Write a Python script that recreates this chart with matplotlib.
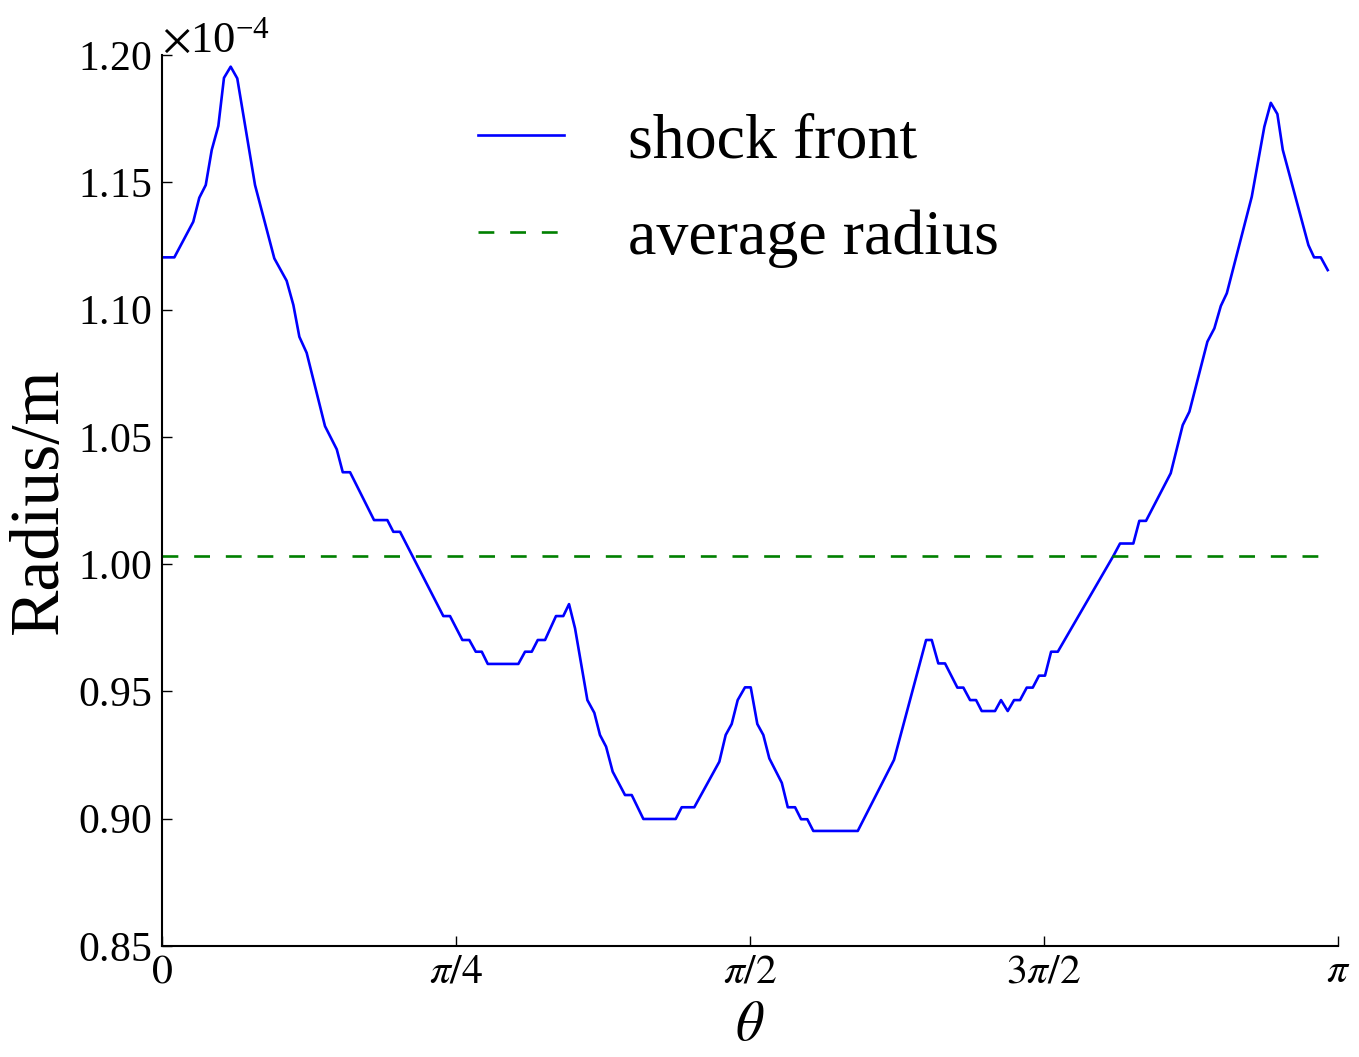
import numpy as np
import matplotlib
matplotlib.use('Agg')
import matplotlib.pyplot as plt
from matplotlib.ticker import ScalarFormatter

plt.rcParams['font.family'] = ['Liberation Serif', 'DejaVu Serif']
plt.rcParams['mathtext.fontset'] = 'stix'

# theta in units of pi, radius in units of 1e-4 m
theta_frac = [0.0, 0.0105, 0.0266, 0.0317, 0.0372, 0.0423, 0.0479, 0.0527, 0.0584, 0.0640,
              0.0791, 0.0955, 0.1060, 0.1117, 0.1168, 0.1230, 0.1386, 0.1486, 0.1537, 0.1599,
              0.1803, 0.1916, 0.1967, 0.2024, 0.2392, 0.2449, 0.2554, 0.2613, 0.2668, 0.2719,
              0.2770, 0.3030, 0.3087, 0.3144, 0.3195, 0.3257, 0.3350, 0.3412, 0.3461, 0.3512,
              0.3617, 0.3676, 0.3724, 0.3776, 0.3832, 0.3937, 0.3994, 0.4093, 0.4368, 0.4419,
              0.4526, 0.4739, 0.4793, 0.4844, 0.4895, 0.4957, 0.5006, 0.5062, 0.5113, 0.5164,
              0.5270, 0.5321, 0.5383, 0.5434, 0.5487, 0.5538, 0.5916, 0.6224, 0.6497, 0.6545,
              0.6601, 0.6658, 0.6763, 0.6814, 0.6871, 0.6922, 0.6970, 0.7083, 0.7134, 0.7191,
              0.7245, 0.7296, 0.7353, 0.7404, 0.7457, 0.7508, 0.7560, 0.7617, 0.8089, 0.8146,
              0.8259, 0.8310, 0.8367, 0.8577, 0.8679, 0.8736, 0.8889, 0.8948, 0.9003, 0.9054,
              0.9266, 0.9373, 0.9428, 0.9484, 0.9530, 0.9748, 0.9796, 0.9853, 0.9912]
radius_e4 = [1.1205, 1.1205, 1.1345, 1.1439, 1.1489, 1.1627, 1.1721, 1.1910, 1.1954, 1.1908,
             1.1489, 1.1201, 1.1113, 1.1018, 1.0893, 1.0830, 1.0542, 1.0451, 1.0361, 1.0361,
             1.0173, 1.0173, 1.0127, 1.0127, 0.9796, 0.9796, 0.9702, 0.9702, 0.9656, 0.9656,
             0.9608, 0.9608, 0.9656, 0.9656, 0.9702, 0.9702, 0.9796, 0.9796, 0.9843, 0.9748,
             0.9466, 0.9416, 0.9329, 0.9283, 0.9185, 0.9093, 0.9093, 0.8999, 0.8999, 0.9045,
             0.9045, 0.9224, 0.9329, 0.9372, 0.9466, 0.9516, 0.9516, 0.9372, 0.9329, 0.9237,
             0.9141, 0.9045, 0.9045, 0.8998, 0.8998, 0.8952, 0.8952, 0.9231, 0.9702, 0.9702,
             0.9610, 0.9610, 0.9515, 0.9515, 0.9466, 0.9466, 0.9423, 0.9423, 0.9466, 0.9423,
             0.9466, 0.9466, 0.9515, 0.9515, 0.9562, 0.9562, 0.9656, 0.9656, 1.0032, 1.0081,
             1.0081, 1.0170, 1.0170, 1.0357, 1.0546, 1.0599, 1.0874, 1.0926, 1.1014, 1.1064,
             1.1443, 1.1718, 1.1812, 1.1768, 1.1627, 1.1253, 1.1205, 1.1205, 1.1155]
average_e4 = 1.0032

xtick_frac = [0, 0.25, 0.5, 0.75, 1.0]
xtick_labels = ['$0$', r'$\pi/4$', r'$\pi/2$', r'$3\pi/2$', r'$\pi$']
yticks_e4 = [0.85, 0.90, 0.95, 1.00, 1.05, 1.10, 1.15, 1.20]

theta = np.array(theta_frac) * np.pi
radius = np.array(radius_e4) * 1e-4

fig = plt.figure(figsize=(13.59, 10.57), dpi=100)
ax = fig.add_axes([0.1192, 0.105, 0.8654, 0.843])

ax.plot(theta, radius, color='b', lw=1.9, label='shock front')
ax.plot([theta[0], theta[-1]], [average_e4 * 1e-4] * 2, color='g', lw=1.9,
        ls=(0, (6, 6)), label='average radius')

ax.set_xlim(0, np.pi)
ax.set_ylim(0.85e-4, 1.20e-4)
ax.set_xticks(np.array(xtick_frac) * np.pi)
ax.set_xticklabels(xtick_labels)
ax.set_yticks(np.array(yticks_e4) * 1e-4)
fmt = ScalarFormatter(useMathText=True)
fmt.set_powerlimits((-3, 3))
ax.yaxis.set_major_formatter(fmt)
ax.yaxis.get_offset_text().set_fontsize(32)

for s in ['top', 'right']:
    ax.spines[s].set_visible(False)
for s in ['left', 'bottom']:
    ax.spines[s].set_linewidth(1.5)
ax.tick_params(direction='in', length=7, width=1, labelsize=30, top=False, right=False)
ax.tick_params(axis='x', pad=5)
ax.tick_params(axis='y', pad=8)

ax.set_xlabel(r'$\theta$', fontsize=40, labelpad=6)
ax.set_ylabel('Radius/m', fontsize=50, labelpad=4)

ax.legend(loc='upper left', bbox_to_anchor=(0.22, 1.0), frameon=False, fontsize=46,
          handlelength=1.35, handletextpad=1.0, labelspacing=0.6)

fig.savefig('out.png', dpi=100)
